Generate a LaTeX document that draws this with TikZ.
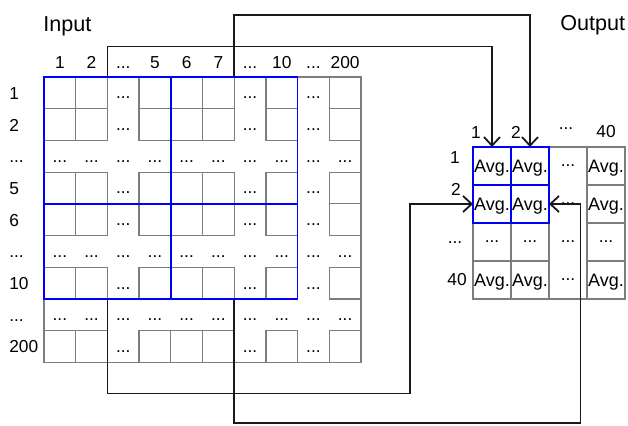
\documentclass[tikz,border=0pt]{standalone}
\usepackage{fontspec}
\setmainfont{Liberation Sans}
\usetikzlibrary{arrows.meta, calc}
\definecolor{gridgray}{RGB}{125,125,125}
\definecolor{poolblue}{RGB}{0,0,255}
\definecolor{linkink}{RGB}{25,25,25}
\newcommand{\lblfont}{\fontsize{13}{15}\selectfont}
\newcommand{\avgfont}{\fontsize{13.5}{16}\selectfont}
\newcommand{\headfont}{\fontsize{16.2}{19}\selectfont}
\newcommand{\skipmark}{...}
\tikzset{
  avgtext/.style={text height=10pt, text depth=1pt, font=\avgfont},
  cellbox/.style={
    draw=gridgray,
    line width=0.9pt,
    minimum size=23.78pt,
    inner sep=0pt,
    outer sep=0pt,
    font=\lblfont
  },
  dotcell/.style={minimum size=23.78pt, inner sep=0pt, outer sep=0pt, font=\lblfont, text height=10pt, text depth=1pt},
  outcell/.style={
    draw=gridgray,
    line width=0.9pt,
    minimum size=28.5pt,
    inner sep=0pt,
    outer sep=0pt,
    font=\lblfont
  },
  poolcell/.style={outcell, draw=poolblue, line width=1.3pt, avgtext},
  lbl/.style={inner sep=0pt, font=\lblfont, anchor=base},
  head/.style={inner sep=0pt, font=\headfont, anchor=base west},
  frame/.style={draw=gridgray, line width=0.9pt},
  blockline/.style={draw=poolblue, line width=1.3pt},
  arrow/.style={-{Straight Barb[length=6.5pt, width=12pt]}, line width=1.35pt, draw=linkink}
}

\begin{document}
\begin{tikzpicture}[x=0.75pt, y=-0.75pt]
  \useasboundingbox (0,0) rectangle (628,425);

  % input map
  \node[head] (intitle) at (43,31) {Input};
  \draw[frame] (44,77) rectangle (361,362.3);
  \foreach \r in {1,2,4,5,7,9}
    \foreach \c in {1,2,4,5,6,8,10}
      \node[cellbox] (in-\r-\c) at ({44+31.7*(\c-0.5)},{77+31.7*(\r-0.5)}) {};
  \foreach \r in {3,6,8}
    \foreach \c in {1,...,10}
      \node[dotcell] (in-\r-\c) at ({44+31.7*(\c-0.5)},{77+31.7*(\r-0.5)}) {\skipmark};
  \foreach \r in {1,2,4,5,7,9}
    \foreach \c in {3,7,9}
      \node[dotcell] (in-\r-\c) at ({44+31.7*(\c-0.5)},{77+31.7*(\r-0.5)}) {\skipmark};
  \foreach \c/\t in {1/1,2/2,3/\skipmark,4/5,5/6,6/7,7/\skipmark,8/10,9/\skipmark,10/200}
    \node[lbl] (incol-\c) at ({44+31.7*(\c-0.5)},68) {\t};
  \foreach \r/\t in {1/1,2/2,3/\skipmark,4/5,5/6,6/\skipmark,7/10,8/\skipmark,9/200}
    \node[lbl, anchor=base west] (inrow-\r) at (9,{77+31.7*(\r-0.5)+6.5}) {\t};

  % 5x5 blocks
  \draw[blockline] (in-1-1.north west) rectangle (in-7-8.south east);
  \draw[blockline] (in-1-4.north east) -- (in-7-4.south east);
  \draw[blockline] (in-4-1.south west) -- (in-4-8.south east);

  % output map
  \node[head] (outtitle) at (560,30) {Output};
  \draw[frame] (473,147) rectangle (625,299);
  \foreach \c in {1,2,4} {
    \node[outcell] (out-3-\c) at ({473+38*(\c-0.5)},{147+38*2.5}) {\skipmark};
    \node[outcell, avgtext] (out-4-\c) at ({473+38*(\c-0.5)},{147+38*3.5}) {Avg.};
  }
  \foreach \r in {1,2} {
    \node[outcell, avgtext] (out-\r-4) at ({473+38*3.5},{147+38*(\r-0.5)}) {Avg.};
    \foreach \c in {1,2}
      \node[poolcell] (out-\r-\c) at ({473+38*(\c-0.5)},{147+38*(\r-0.5)}) {Avg.};
  }
  \foreach \r in {1,...,4}
    \node[inner sep=0pt, font=\lblfont] (out-\r-3) at ({473+38*2.5},{147+38*(\r-0.5)}) {\skipmark};
  \node[lbl] (outcol-1) at (476,138) {1};
  \node[lbl] (outcol-2) at (516,138) {2};
  \node[lbl] (outcol-3) at (566,129) {\skipmark};
  \node[lbl] (outcol-4) at (606,137) {40};
  \node[lbl] (outrow-1) at (455,163) {1};
  \node[lbl] (outrow-2) at (456,195) {2};
  \node[lbl] (outrow-3) at (455,243) {\skipmark};
  \node[lbl] (outrow-4) at (457,285) {40};

  % pooling connectors
  \coordinate (bendA) at (300,46.5);
  \coordinate (bendB) at (400,15);
  \coordinate (bendC) at (410,393.5);
  \coordinate (bendD) at (580.5,423);
  \draw[arrow] (in-1-2.north east) |- (bendA) -| (out-1-1.north);
  \draw[arrow] (in-1-6.north east) |- (bendB) -| (out-1-2.north);
  \draw[arrow] (in-7-2.south east) |- (bendC) |- (out-2-1.west);
  \draw[arrow] (in-7-6.south east) |- (bendD) |- (out-2-2.east);
\end{tikzpicture}
\end{document}
